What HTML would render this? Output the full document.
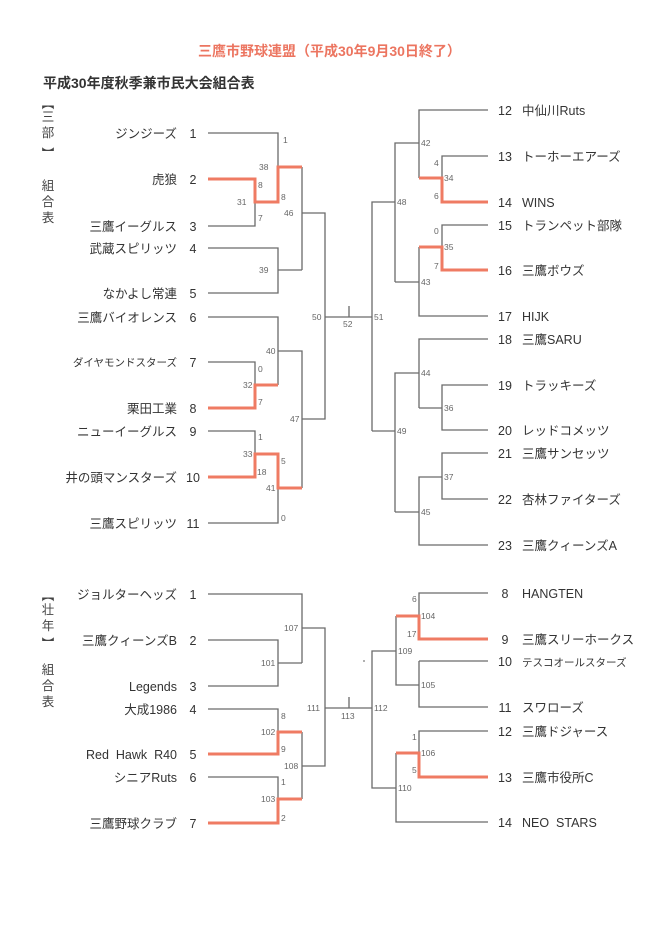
<!DOCTYPE html>
<html><head><meta charset="utf-8"><style>
html,body{margin:0;padding:0;background:#fff;}
svg{display:block;font-family:"Liberation Sans","Noto Sans CJK JP",sans-serif;}
.n{font-size:12.5px;fill:#333;}
.s{font-size:8.5px;fill:#666;}
.k{fill:none;stroke:#6a6a6a;stroke-width:1.3;}
.r{fill:none;stroke:#ef7b63;stroke-width:3;}
</style></head><body>
<svg width="664" height="929" viewBox="0 0 664 929" xmlns="http://www.w3.org/2000/svg">
<text x="198" y="56" font-size="14" font-weight="bold" fill="#ec7560">三鷹市野球連盟（平成30年9月30日終了）</text>
<text x="43" y="88" font-size="14" font-weight="bold" fill="#333">平成30年度秋季兼市民大会組合表</text>
<g font-size="12.5" fill="#444" text-anchor="middle">
<text x="48" y="108">︻</text><text x="48" y="121">三</text><text x="48" y="137">部</text><text x="48" y="158">︼</text>
<text x="48" y="190">組</text><text x="48" y="206">合</text><text x="48" y="222">表</text>
<text x="48" y="600">︻</text><text x="48" y="614">壮</text><text x="48" y="630">年</text><text x="48" y="648">︼</text>
<text x="48" y="674">組</text><text x="48" y="690">合</text><text x="48" y="706">表</text>
</g>
<g class="k">
<path d="M208 133H278V202M208 226H255V179M302 167V270M208 248H278V293H208M278 270H302M302 213H325V419H302M325 317H372M349 306V317M208 317H278V385M278 351H302V488M208 362H255V408M208 431H255V477M278 454V523H208"/>
<path d="M488 110H419V178M419 143H395V282M395 202H372V431M488 156H442V202M488 225H442V270M419 247V316H488M419 282H395M488 339H419V408M419 373H395V512M395 431H372M488 385H442V430H488M442 408H419M488 453H442V499H488M442 477H419V545H488M419 512H395"/>
<path d="M208 594H302V663M302 628H325V766H302M208 640H278V686H208M278 663H302M208 709H278V754M302 732V799M208 777H278V823M325 708H372M349 697V708"/>
<path d="M488 593H419V639M396 616V685H419M419 661V707H488M419 661H488M396 651H372V788H396M488 731H419V777M396 753V822H488"/>
</g>
<g class="r">
<path d="M208 179H255V202H278V167H302M208 408H255V385H278M208 477H255V454H278V488H302"/>
<path d="M488 202H442V178H419M488 270H442V247H419"/>
<path d="M208 754H278V732H302M208 823H278V799H302"/>
<path d="M488 639H419V616H396M488 777H419V753H396"/>
</g>
<circle cx="364" cy="661" r="0.9" fill="#777"/>
<g class="s">
<text x="283" y="143">1</text><text x="259" y="170">38</text><text x="258" y="188">8</text><text x="281" y="200">8</text><text x="237" y="205">31</text><text x="258" y="221">7</text><text x="284" y="216">46</text><text x="259" y="273">39</text>
<text x="312" y="320">50</text><text x="343" y="327">52</text><text x="374" y="320">51</text>
<text x="266" y="354">40</text><text x="258" y="372">0</text><text x="243" y="388">32</text><text x="258" y="405">7</text><text x="290" y="422">47</text>
<text x="258" y="440">1</text><text x="243" y="457">33</text><text x="281" y="464">5</text><text x="257" y="475">18</text><text x="266" y="491">41</text><text x="281" y="521">0</text>
<text x="421" y="146">42</text><text x="434" y="166">4</text><text x="444" y="181">34</text><text x="434" y="199">6</text><text x="397" y="205">48</text>
<text x="434" y="234">0</text><text x="444" y="250">35</text><text x="434" y="269">7</text><text x="421" y="285">43</text>
<text x="421" y="376">44</text><text x="444" y="411">36</text><text x="397" y="434">49</text><text x="444" y="480">37</text><text x="421" y="515">45</text>
<text x="284" y="631">107</text><text x="261" y="666">101</text><text x="281" y="719">8</text><text x="261" y="735">102</text><text x="281" y="752">9</text><text x="284" y="769">108</text>
<text x="281" y="785">1</text><text x="261" y="802">103</text><text x="281" y="821">2</text><text x="307" y="711">111</text><text x="341" y="719">113</text><text x="374" y="711">112</text>
<text x="412" y="602">6</text><text x="421" y="619">104</text><text x="407" y="637">17</text><text x="398" y="654">109</text><text x="421" y="688">105</text>
<text x="412" y="740">1</text><text x="421" y="756">106</text><text x="412" y="773">5</text><text x="398" y="791">110</text>
</g>
<g class="n" text-anchor="end">
<text x="177" y="138">ジンジーズ</text><text x="177" y="184">虎狼</text><text x="177" y="231">三鷹イーグルス</text><text x="177" y="253">武蔵スピリッツ</text><text x="177" y="298">なかよし常連</text><text x="177" y="322">三鷹バイオレンス</text>
<text x="177" y="366" font-size="10.5">ダイヤモンドスターズ</text><text x="177" y="413">栗田工業</text><text x="177" y="436">ニューイーグルス</text><text x="177" y="482">井の頭マンスターズ</text><text x="177" y="528">三鷹スピリッツ</text>
<text x="177" y="599">ジョルターヘッズ</text><text x="177" y="645">三鷹クィーンズB</text><text x="177" y="691">Legends</text><text x="177" y="714">大成1986</text><text x="177" y="759">Red&#160;&#160;Hawk&#160;&#160;R40</text><text x="177" y="782">シニアRuts</text><text x="177" y="828">三鷹野球クラブ</text>
</g>
<g class="n" text-anchor="middle">
<text x="193" y="138">1</text><text x="193" y="184">2</text><text x="193" y="231">3</text><text x="193" y="253">4</text><text x="193" y="298">5</text><text x="193" y="322">6</text><text x="193" y="367">7</text><text x="193" y="413">8</text><text x="193" y="436">9</text><text x="193" y="482">10</text><text x="193" y="528">11</text>
<text x="193" y="599">1</text><text x="193" y="645">2</text><text x="193" y="691">3</text><text x="193" y="714">4</text><text x="193" y="759">5</text><text x="193" y="782">6</text><text x="193" y="828">7</text>
<text x="505" y="115">12</text><text x="505" y="161">13</text><text x="505" y="207">14</text><text x="505" y="230">15</text><text x="505" y="275">16</text><text x="505" y="321">17</text><text x="505" y="344">18</text><text x="505" y="390">19</text><text x="505" y="435">20</text><text x="505" y="458">21</text><text x="505" y="504">22</text><text x="505" y="550">23</text>
<text x="505" y="598">8</text><text x="505" y="644">9</text><text x="505" y="666">10</text><text x="505" y="712">11</text><text x="505" y="736">12</text><text x="505" y="782">13</text><text x="505" y="827">14</text>
</g>
<g class="n">
<text x="522" y="115">中仙川Ruts</text><text x="522" y="161">トーホーエアーズ</text><text x="522" y="207">WINS</text><text x="522" y="230">トランペット部隊</text><text x="522" y="275">三鷹ボウズ</text><text x="522" y="321">HIJK</text><text x="522" y="344">三鷹SARU</text><text x="522" y="390">トラッキーズ</text><text x="522" y="435">レッドコメッツ</text><text x="522" y="458">三鷹サンセッツ</text><text x="522" y="504">杏林ファイターズ</text><text x="522" y="550">三鷹クィーンズA</text>
<text x="522" y="598">HANGTEN</text><text x="522" y="644">三鷹スリーホークス</text><text x="522" y="666" font-size="10.5">テスコオールスターズ</text><text x="522" y="712">スワローズ</text><text x="522" y="736">三鷹ドジャース</text><text x="522" y="782">三鷹市役所C</text><text x="522" y="827">NEO&#160;&#160;STARS</text>
</g>
</svg>
</body></html>
